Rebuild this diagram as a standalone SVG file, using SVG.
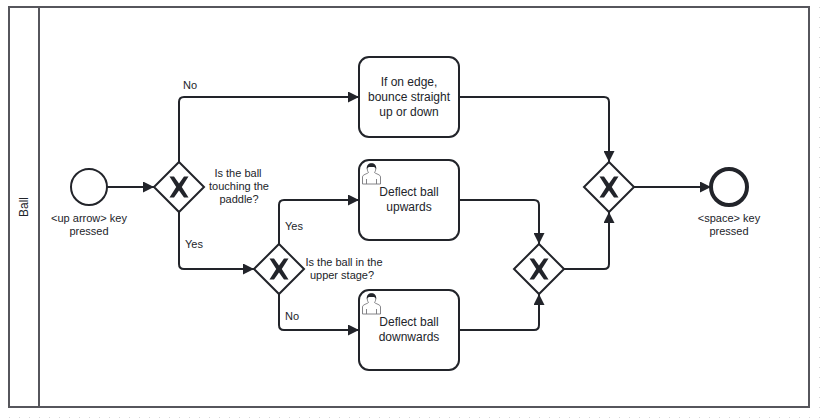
<svg xmlns="http://www.w3.org/2000/svg" width="824" height="419" viewBox="0 0 824 419">
<style>
.conn{fill:none;stroke:#22242a;stroke-width:2;stroke-linejoin:round}
.head{fill:#22242a}
.shape{fill:#fff;stroke:#22242a;stroke-width:2}
.task{fill:#fff;stroke:#22242a;stroke-width:2}
.pool{fill:none;stroke:#56565c;stroke-width:2}
.gw{fill:#fff;stroke:#22242a;stroke-width:2;stroke-linejoin:miter}
.x{fill:#22242a}
text{font-family:"Liberation Sans",Arial,sans-serif;fill:#22242a;text-anchor:middle}
.t{font-size:12px}
.l{font-size:11px}
.ui{fill:#fff;stroke:#77777c;stroke-width:.9}
.uh{fill:#22242a}
</style>
<defs>
<pattern id="dots" x="0" y="0" width="10" height="10" patternUnits="userSpaceOnUse">
<rect x="9" y="7" width="1" height="1" fill="#d8d8d8"/>
</pattern>
<marker id="arrow" viewBox="0 0 11 11" refX="11" refY="5.500" markerWidth="11" markerHeight="11" markerUnits="userSpaceOnUse" orient="auto">
<path class="head" d="M0 0L11 5.500L0 11Z"/>
</marker>
<path id="gwx" class="x" d="M-9.500-10.500H-5L0-3.500L5-10.500H9.500L2.800 0L9.500 10.500H5L0 3.500L-5 10.500H-9.500L-2.800 0Z"/>
<g id="user">
<path class="ui" d="M.5 21V14C.5 11.500 5 11 6.500 9.500C4.500 7 4.500 1.500 9.500 1C14.500 1.500 14.500 7 12.500 9.500C14 11 18.500 11.500 18.500 14V21Z"/>
<path class="ui" d="M4.500 21V16M14.500 21V16"/>
<path class="uh" d="M4.800 6C4.500 2 6.500 .2 9.500 .2C12.500 .2 14.500 2 14.200 6C13.500 4.200 12 3.700 9.500 4C7 3.700 5.500 4.200 4.800 6Z"/>
</g>
</defs>
<rect width="824" height="419" fill="#fff"/>
<rect width="824" height="419" fill="url(#dots)"/>
<g id="pool">
<rect x="9" y="7" width="800" height="400" fill="#fff"/>
<rect class="pool" x="9" y="7" width="800" height="400"/>
<path class="pool" d="M39 7V407"/>
<text class="t" transform="translate(28 207) rotate(-90)">Ball</text>
</g>
<g id="connectors">
<path class="conn" marker-end="url(#arrow)" d="M107 187H154"/>
<path class="conn" marker-end="url(#arrow)" d="M179 162V102Q179 97 184 97H359"/>
<path class="conn" marker-end="url(#arrow)" d="M179 212V264Q179 269 184 269H254"/>
<path class="conn" marker-end="url(#arrow)" d="M279 244V205Q279 200 284 200H359"/>
<path class="conn" marker-end="url(#arrow)" d="M279 294V325Q279 330 284 330H359"/>
<path class="conn" marker-end="url(#arrow)" d="M459 97H604Q609 97 609 102V162"/>
<path class="conn" marker-end="url(#arrow)" d="M459 200H534Q539 200 539 205V244"/>
<path class="conn" marker-end="url(#arrow)" d="M459 330H534Q539 330 539 325V294"/>
<path class="conn" marker-end="url(#arrow)" d="M564 269H604Q609 269 609 264V212"/>
<path class="conn" marker-end="url(#arrow)" d="M634 187H711"/>
<text class="l" x="190" y="89">No</text>
<text class="l" x="194" y="248">Yes</text>
<text class="l" x="294" y="230">Yes</text>
<text class="l" x="292" y="320">No</text>
</g>
<g id="start">
<circle class="shape" cx="89" cy="187" r="18"/>
<text class="l" x="89" y="222">&lt;up arrow&gt; key</text>
<text class="l" x="89" y="235">pressed</text>
</g>
<g id="gateway-touching">
<path class="gw" d="M179 162L204 187L179 212L154 187Z"/>
<use href="#gwx" x="179" y="187"/>
<text class="l" x="238" y="177">Is the ball</text>
<text class="l" x="239" y="190">touching the</text>
<text class="l" x="239" y="203">paddle?</text>
</g>
<g id="gateway-upper">
<path class="gw" d="M279 244L304 269L279 294L254 269Z"/>
<use href="#gwx" x="279" y="269"/>
<text class="l" x="344" y="266">Is the ball in the</text>
<text class="l" x="342" y="279">upper stage?</text>
</g>
<g id="task-bounce">
<rect class="task" x="359" y="57" width="100" height="80" rx="10"/>
<text class="t" x="409" y="86">If on edge,</text>
<text class="t" x="409" y="101">bounce straight</text>
<text class="t" x="409" y="116">up or down</text>
</g>
<g id="task-up">
<rect class="task" x="359" y="160" width="100" height="80" rx="10"/>
<use href="#user" x="362" y="163"/>
<text class="t" x="409" y="196">Deflect ball</text>
<text class="t" x="409" y="211">upwards</text>
</g>
<g id="task-down">
<rect class="task" x="359" y="290" width="100" height="80" rx="10"/>
<use href="#user" x="362" y="293"/>
<text class="t" x="409" y="326">Deflect ball</text>
<text class="t" x="409" y="341">downwards</text>
</g>
<g id="gateway-merge-lower">
<path class="gw" d="M539 244L564 269L539 294L514 269Z"/>
<use href="#gwx" x="539" y="269"/>
</g>
<g id="gateway-merge-upper">
<path class="gw" d="M609 162L634 187L609 212L584 187Z"/>
<use href="#gwx" x="609" y="187"/>
</g>
<g id="end">
<circle cx="729" cy="187" r="18" fill="#fff" stroke="#22242a" stroke-width="4"/>
<text class="l" x="729" y="222">&lt;space&gt; key</text>
<text class="l" x="729" y="235">pressed</text>
</g>
</svg>
